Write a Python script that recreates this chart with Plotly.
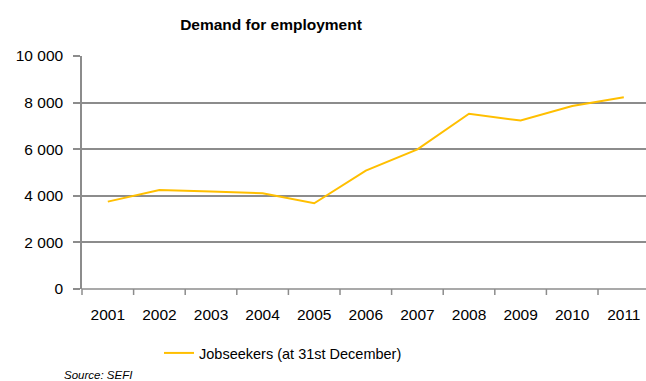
import plotly.graph_objects as go

years = ["2001", "2002", "2003", "2004", "2005", "2006", "2007", "2008", "2009", "2010", "2011"]
jobseekers = [3750, 4250, 4180, 4110, 3680, 5080, 5990, 7520, 7230, 7850, 8230]
series_name = "Jobseekers (at 31st December)"
y_ticks = [0, 2000, 4000, 6000, 8000, 10000]
y_ticktext = ["0", "2 000", "4 000", "6 000", "8 000", "10 000"]

W, H = 646, 381
ml, mr, mt, mb = 82, 0, 56, 92
pw = W - ml - mr
ph = H - mt - mb
x_range = [-0.5, 10.43]

fig = go.Figure()
fig.add_trace(go.Scatter(
    x=list(range(len(years))), y=jobseekers, mode="lines", name=series_name,
    line=dict(color="#FFBF00", width=2), showlegend=True,
))

font_family = "Liberation Sans, Arial, sans-serif"
fig.update_layout(
    width=W, height=H,
    margin=dict(l=ml, r=mr, t=mt, b=mb),
    paper_bgcolor="white", plot_bgcolor="white",
    font=dict(family=font_family, color="black", size=14),
    title=dict(text="<b>Demand for employment</b>", x=(271 - ml) / pw, xref="paper",
               xanchor="center", y=1 - 25 / H, yanchor="middle", font=dict(size=15.5)),
    showlegend=True,
    legend=dict(orientation="h", x=(283 - ml) / pw, xanchor="center", y=-(353 - (H - mb)) / ph,
                yanchor="middle", font=dict(size=14.5), bgcolor="rgba(0,0,0,0)"),
    xaxis=dict(
        tickmode="array", tickvals=list(range(len(years))), ticktext=years,
        range=x_range, showgrid=False, zeroline=False,
        showline=False, ticks="", tickfont=dict(size=15.5), ticklabelstandoff=14,
    ),
    yaxis=dict(
        range=[0, 10000], tickvals=y_ticks, ticktext=y_ticktext,
        showgrid=True, gridcolor="#8C8C8C", gridwidth=1.5, zeroline=False,
        showline=True, linecolor="#8C8C8C", linewidth=1.5,
        ticks="outside", ticklen=7, tickcolor="#8C8C8C", tickwidth=1.5,
        tickfont=dict(size=15.5), ticklabelstandoff=7,
    ),
)

# x-axis baseline and category boundary ticks
fig.add_shape(type="line", xref="paper", yref="paper", x0=0, x1=1, y0=0, y1=0,
              line=dict(color="#8C8C8C", width=1.5))
span = x_range[1] - x_range[0]
for i in range(len(years) + 1):
    px = (i - 0.5 - x_range[0]) / span
    if px <= 1:
        fig.add_shape(type="line", xref="paper", yref="paper", x0=px, x1=px,
                      y0=0, y1=-6 / ph, line=dict(color="#8C8C8C", width=1.5))

fig.add_annotation(text="<i>Source: SEFI</i>", xref="paper", yref="paper",
                   x=(62 - ml) / pw, y=-(375 - (H - mb)) / ph,
                   xanchor="left", yanchor="middle", showarrow=False,
                   font=dict(size=11.5, color="black"))

fig.write_html("out.html")
